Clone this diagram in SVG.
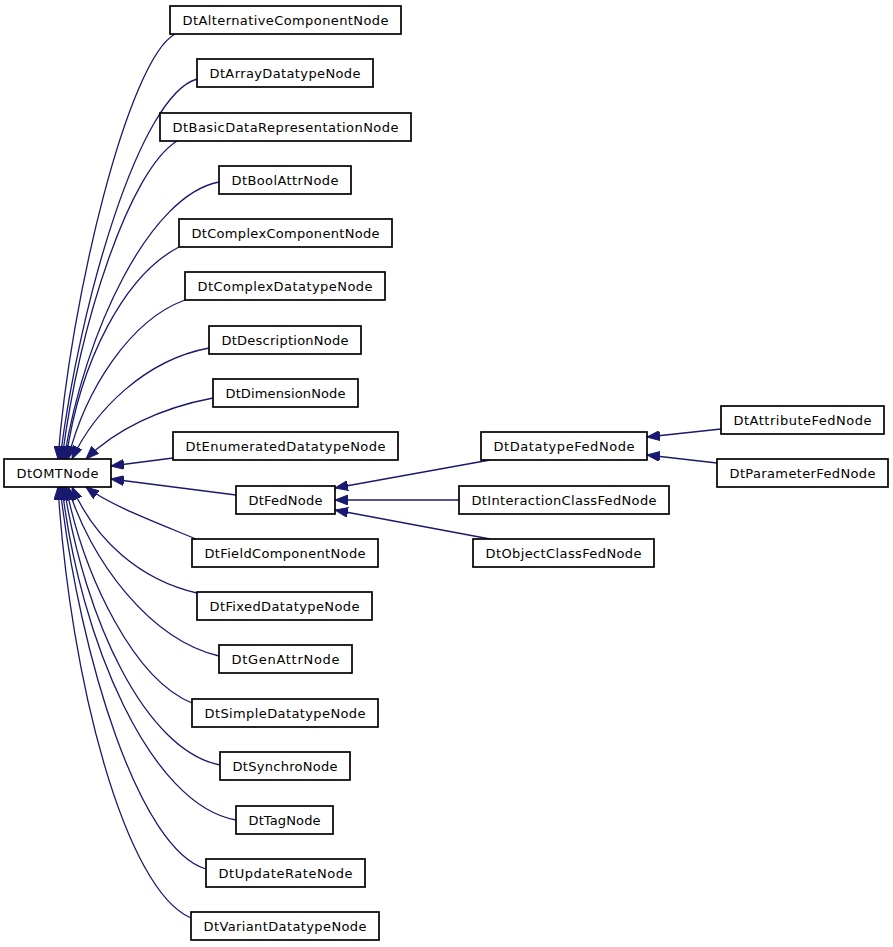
<svg xmlns="http://www.w3.org/2000/svg" width="893" height="947" viewBox="0 0 893 947">
<defs>
<style>
.n rect{fill:#fff;stroke:#000;stroke-width:1.7}
.n text{font-family:"DejaVu Sans",sans-serif;font-size:13px;fill:#000;text-anchor:middle}
.e path{fill:none;stroke:#191970;stroke-width:1.3;marker-end:url(#ah)}
</style>
<marker id="ah" markerUnits="userSpaceOnUse" markerWidth="14" markerHeight="10" refX="13" refY="5" orient="auto" viewBox="0 0 14 10">
<path d="M0,0 L13,5 L0,10 z" fill="#191970" stroke="#191970" stroke-width="1"/>
</marker>
</defs>
<rect width="893" height="947" fill="#fff"/>
<g id="connectors" class="e">
<path d="M175,34 C128,60 70,300 58,459"/>
<path d="M197,79 C140,95 80,300 60,459"/>
<path d="M177,141 C130,170 80,320 62,459"/>
<path d="M219,182 C150,195 85,330 64,459"/>
<path d="M179,247 C125,275 80,360 66,459"/>
<path d="M185,300 C130,320 85,390 68,459"/>
<path d="M209,348 C145,360 95,410 72,459"/>
<path d="M213,398 C160,408 115,430 86,459"/>
<path d="M173,458 L111,466"/>
<path d="M236,495 L111,479"/>
<path d="M196,539 C150,520 110,505 86,487"/>
<path d="M197,593 C140,580 95,540 72,487"/>
<path d="M219,656 C150,640 90,560 68,487"/>
<path d="M192,703 C135,680 85,580 66,487"/>
<path d="M220,765 C145,750 85,620 64,487"/>
<path d="M236,820 C150,805 80,640 62,487"/>
<path d="M206,869 C140,850 80,660 60,487"/>
<path d="M191,918 C125,890 70,680 58,487"/>
<path d="M490,460 L335,488"/>
<path d="M459,500 L335,500"/>
<path d="M490,539 L335,510"/>
<path d="M721,429 L647,437"/>
<path d="M717,463 L647,455"/>
</g>
<g id="DtOMTNode" class="n"><rect x="4" y="459" width="107" height="28"/><text x="57.5" y="477.5" textLength="82" lengthAdjust="spacing">DtOMTNode</text></g>
<g id="DtAlternativeComponentNode" class="n"><rect x="170" y="6" width="231" height="28"/><text x="285.5" y="24.5" textLength="206" lengthAdjust="spacing">DtAlternativeComponentNode</text></g>
<g id="DtArrayDatatypeNode" class="n"><rect x="197" y="59" width="176" height="28"/><text x="285" y="77.5" textLength="151" lengthAdjust="spacing">DtArrayDatatypeNode</text></g>
<g id="DtBasicDataRepresentationNode" class="n"><rect x="160" y="113" width="251" height="28"/><text x="285.5" y="131.5" textLength="226" lengthAdjust="spacing">DtBasicDataRepresentationNode</text></g>
<g id="DtBoolAttrNode" class="n"><rect x="219" y="166" width="132" height="28"/><text x="285" y="184.5" textLength="107" lengthAdjust="spacing">DtBoolAttrNode</text></g>
<g id="DtComplexComponentNode" class="n"><rect x="179" y="219" width="213" height="28"/><text x="285.5" y="237.5" textLength="188" lengthAdjust="spacing">DtComplexComponentNode</text></g>
<g id="DtComplexDatatypeNode" class="n"><rect x="185" y="272" width="200" height="28"/><text x="285" y="290.5" textLength="175" lengthAdjust="spacing">DtComplexDatatypeNode</text></g>
<g id="DtDescriptionNode" class="n"><rect x="209" y="326" width="152" height="28"/><text x="285" y="344.5" textLength="127" lengthAdjust="spacing">DtDescriptionNode</text></g>
<g id="DtDimensionNode" class="n"><rect x="213" y="379" width="145" height="28"/><text x="285.5" y="397.5" textLength="120" lengthAdjust="spacing">DtDimensionNode</text></g>
<g id="DtEnumeratedDatatypeNode" class="n"><rect x="173" y="432" width="225" height="28"/><text x="285.5" y="450.5" textLength="200" lengthAdjust="spacing">DtEnumeratedDatatypeNode</text></g>
<g id="DtFedNode" class="n"><rect x="236" y="486" width="99" height="28"/><text x="285.5" y="504.5" textLength="74" lengthAdjust="spacing">DtFedNode</text></g>
<g id="DtDatatypeFedNode" class="n"><rect x="481" y="432" width="166" height="28"/><text x="564" y="450.5" textLength="141" lengthAdjust="spacing">DtDatatypeFedNode</text></g>
<g id="DtAttributeFedNode" class="n"><rect x="721" y="406" width="163" height="28"/><text x="802.5" y="424.5" textLength="138" lengthAdjust="spacing">DtAttributeFedNode</text></g>
<g id="DtParameterFedNode" class="n"><rect x="717" y="459" width="171" height="28"/><text x="802.5" y="477.5" textLength="146" lengthAdjust="spacing">DtParameterFedNode</text></g>
<g id="DtInteractionClassFedNode" class="n"><rect x="459" y="486" width="210" height="28"/><text x="564" y="504.5" textLength="185" lengthAdjust="spacing">DtInteractionClassFedNode</text></g>
<g id="DtObjectClassFedNode" class="n"><rect x="473" y="539" width="181" height="28"/><text x="563.5" y="557.5" textLength="156" lengthAdjust="spacing">DtObjectClassFedNode</text></g>
<g id="DtFieldComponentNode" class="n"><rect x="192" y="539" width="186" height="28"/><text x="285" y="557.5" textLength="161" lengthAdjust="spacing">DtFieldComponentNode</text></g>
<g id="DtFixedDatatypeNode" class="n"><rect x="197" y="592" width="175" height="28"/><text x="284.5" y="610.5" textLength="150" lengthAdjust="spacing">DtFixedDatatypeNode</text></g>
<g id="DtGenAttrNode" class="n"><rect x="219" y="645" width="133" height="28"/><text x="285.5" y="663.5" textLength="108" lengthAdjust="spacing">DtGenAttrNode</text></g>
<g id="DtSimpleDatatypeNode" class="n"><rect x="192" y="699" width="186" height="28"/><text x="285" y="717.5" textLength="161" lengthAdjust="spacing">DtSimpleDatatypeNode</text></g>
<g id="DtSynchroNode" class="n"><rect x="220" y="752" width="130" height="28"/><text x="285" y="770.5" textLength="105" lengthAdjust="spacing">DtSynchroNode</text></g>
<g id="DtTagNode" class="n"><rect x="236" y="806" width="97" height="28"/><text x="284.5" y="824.5" textLength="72" lengthAdjust="spacing">DtTagNode</text></g>
<g id="DtUpdateRateNode" class="n"><rect x="206" y="859" width="159" height="28"/><text x="285.5" y="877.5" textLength="134" lengthAdjust="spacing">DtUpdateRateNode</text></g>
<g id="DtVariantDatatypeNode" class="n"><rect x="191" y="912" width="188" height="28"/><text x="285" y="930.5" textLength="163" lengthAdjust="spacing">DtVariantDatatypeNode</text></g>
</svg>
